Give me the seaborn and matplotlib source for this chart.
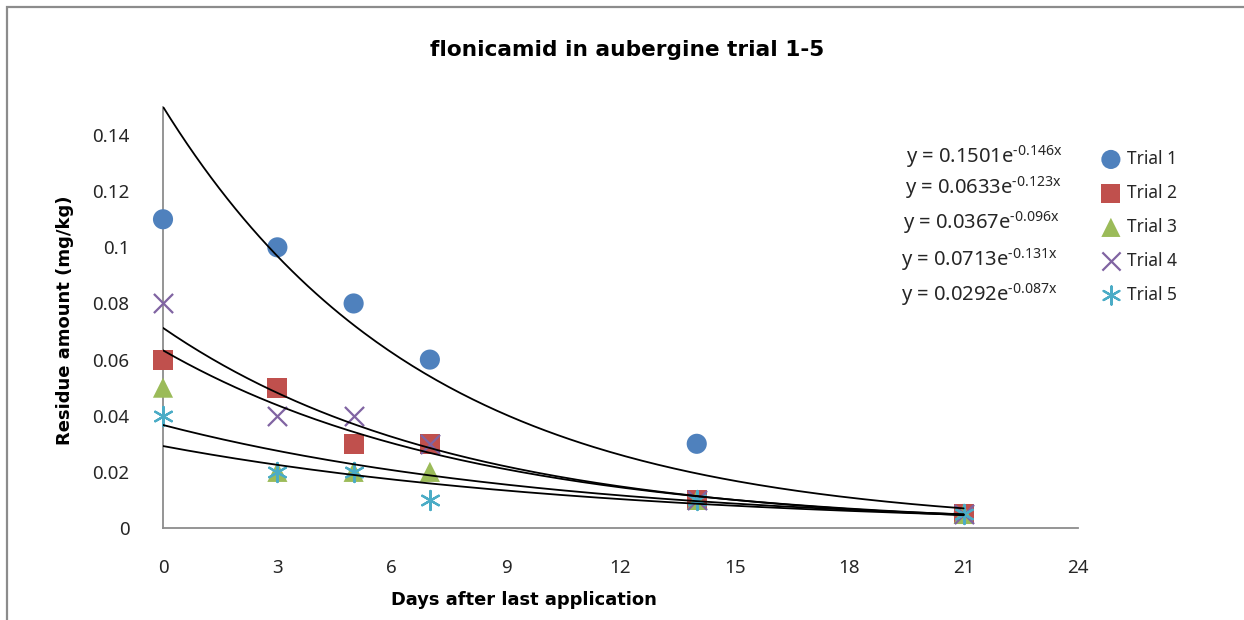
import numpy as np
import pandas as pd
import matplotlib
matplotlib.use("Agg")
import matplotlib.pyplot as plt
import seaborn as sns
from matplotlib.patches import Rectangle

# ---- data ----
days = [0, 3, 5, 7, 14, 21]
trial1 = [0.11, 0.10, 0.08, 0.06, 0.03, 0.005]
trial2 = [0.06, 0.05, 0.03, 0.03, 0.01, 0.005]
trial3 = [0.05, 0.02, 0.02, 0.02, 0.01, 0.005]
trial4 = [0.08, 0.04, 0.04, 0.03, 0.01, 0.005]
trial5 = [0.04, 0.02, 0.02, 0.01, 0.01, 0.005]
trial_names = ["Trial 1", "Trial 2", "Trial 3", "Trial 4", "Trial 5"]

# exponential trendline coefficients shown on the chart
fit_a = [0.1501, 0.0633, 0.0367, 0.0713, 0.0292]
fit_b = [-0.146, -0.123, -0.096, -0.131, -0.087]
fit_a_txt = ["0.1501", "0.0633", "0.0367", "0.0713", "0.0292"]
fit_b_txt = ["-0.146", "-0.123", "-0.096", "-0.131", "-0.087"]

x_ticks = [0, 3, 6, 9, 12, 15, 18, 21, 24]
y_ticks = [0, 0.02, 0.04, 0.06, 0.08, 0.10, 0.12, 0.14]
y_tick_labels = ["0", "0.02", "0.04", "0.06", "0.08", "0.1", "0.12", "0.14"]

title = "flonicamid in aubergine trial 1-5"
x_title = "Days after last application"
y_title = "Residue amount (mg/kg)"

# ---- styles ----
colors = ["#4F81BD", "#C0504D", "#9BBB59", "#8064A2", "#4BACC6"]
markers = ["o", "s", "^", "x", (6, 2, 0)]

sns.set_theme(style="white")
plt.rcParams["font.family"] = ["Noto Sans", "DejaVu Sans"]
plt.rcParams["mathtext.default"] = "regular"
plt.rcParams["axes.unicode_minus"] = False

W, H = 1244, 620
fig = plt.figure(figsize=(W / 100, H / 100), dpi=100)
fig.patch.set_facecolor("white")

def fx(px):
    return px / W

def fy(py):
    return 1 - py / H

ax = fig.add_axes([fx(163), fy(528), fx(1078) - fx(163), fy(107) - fy(528)])

series = [trial1, trial2, trial3, trial4, trial5]
frames = []
for name, vals in zip(trial_names, series):
    frames.append(pd.DataFrame({"day": days, "residue": vals, "trial": name}))
df = pd.concat(frames, ignore_index=True)

for name, col, mk in zip(trial_names, colors, markers):
    sub = df[df["trial"] == name]
    filled = mk in ("o", "s", "^")
    kw = dict(s=210, linewidth=0) if filled else dict(s=190, linewidth=1.6)
    sns.scatterplot(data=sub, x="day", y="residue", marker=mk, color=col,
                    edgecolor=col if not filled else "none", label=name,
                    ax=ax, zorder=3, clip_on=False, **kw)

# trendlines
xs = np.linspace(0, 21, 200)
for a, b in zip(fit_a, fit_b):
    trend = pd.DataFrame({"day": xs, "fit": a * np.exp(b * xs)})
    sns.lineplot(data=trend, x="day", y="fit", color="black", linewidth=1.3,
                 ax=ax, zorder=4, legend=False)

ax.set_xlim(0, 24)
ax.set_ylim(0, 0.15)
ax.set_xticks(x_ticks)
ax.set_xticklabels([str(t) for t in x_ticks])
ax.set_yticks(y_ticks)
ax.set_yticklabels(y_tick_labels)
ax.tick_params(axis="both", length=0, labelsize=13.5, colors="#262626")
ax.tick_params(axis="y", pad=24)
ax.tick_params(axis="x", pad=22)
ax.set_xlabel("")
ax.set_ylabel("")
for side in ("top", "right"):
    ax.spines[side].set_visible(False)
for side in ("left", "bottom"):
    ax.spines[side].set_color("#8C8C8C")
    ax.spines[side].set_linewidth(1.3)
ax.grid(False)

# legend
leg = ax.legend(loc="upper left", bbox_to_anchor=(fx(1097), fy(150)),
                bbox_transform=fig.transFigure, frameon=False,
                fontsize=12.5, labelspacing=0.92, handletextpad=0.1,
                borderaxespad=0, borderpad=0, handlelength=1.6,
                markerscale=0.95)
for t in leg.get_texts():
    t.set_color("#262626")

# equations
eq_y = [157, 188, 223, 260, 295]
eq_x = [906, 905, 903, 901, 901]
for a_t, b_t, px, py in zip(fit_a_txt, fit_b_txt, eq_x, eq_y):
    sup = b_t.replace("-", "\u2010")
    fig.text(fx(px), fy(py), "y = " + a_t + "e$^{" + sup + "x}$",
             fontsize=14.5, color="#262626", ha="left", va="center")

# titles
bold_font = ["DejaVu Sans"]
fig.text(fx(627), fy(50), title, fontsize=15.6, fontweight="bold",
         family=bold_font, ha="center", va="center", color="black")
fig.text(fx(524), fy(600), x_title, fontsize=12.9, fontweight="bold",
         family=bold_font, ha="center", va="center", color="black")
fig.text(fx(65), fy(320), y_title, fontsize=13, fontweight="bold",
         family=bold_font, ha="center", va="center", rotation=90,
         color="black")

# chart frame (top/left edges visible, cropped at right/bottom)
fig.add_artist(Rectangle((fx(7), -0.2), 1.5, fy(7) + 0.2,
                         transform=fig.transFigure, fill=False,
                         edgecolor="#8C8C8C", linewidth=1.6))

fig.savefig("out.png", dpi=100, facecolor="white")
